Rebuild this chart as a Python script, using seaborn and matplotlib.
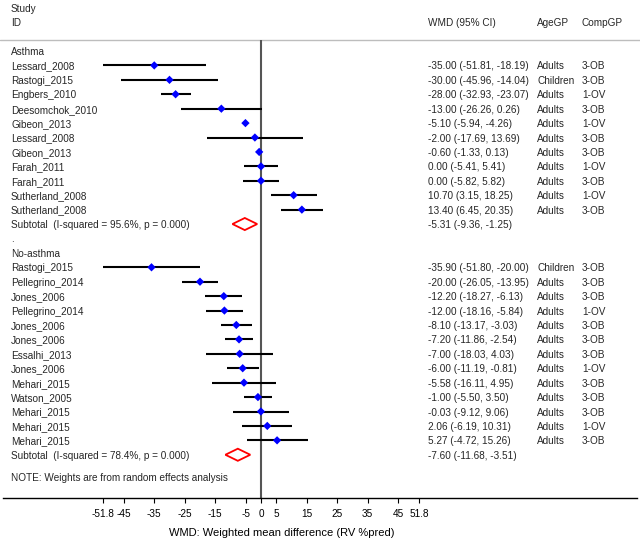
import numpy as np
import pandas as pd
import matplotlib
matplotlib.use("Agg")
import matplotlib.pyplot as plt
import seaborn as sns

sns.set_theme(style="white")
plt.rcParams["font.family"] = ["Liberation Sans", "DejaVu Sans"]

# ---------------- data ----------------
asthma_ids = ["Lessard_2008", "Rastogi_2015", "Engbers_2010", "Deesomchok_2010",
              "Gibeon_2013", "Lessard_2008", "Gibeon_2013", "Farah_2011",
              "Farah_2011", "Sutherland_2008", "Sutherland_2008"]
asthma_wmd = [-35.00, -30.00, -28.00, -13.00, -5.10, -2.00, -0.60, 0.00, 0.00, 10.70, 13.40]
asthma_lo = [-51.81, -45.96, -32.93, -26.26, -5.94, -17.69, -1.33, -5.41, -5.82, 3.15, 6.45]
asthma_hi = [-18.19, -14.04, -23.07, 0.26, -4.26, 13.69, 0.13, 5.41, 5.82, 18.25, 20.35]
asthma_age = ["Adults", "Children", "Adults", "Adults", "Adults", "Adults", "Adults",
              "Adults", "Adults", "Adults", "Adults"]
asthma_comp = ["3-OB", "3-OB", "1-OV", "3-OB", "1-OV", "3-OB", "3-OB", "1-OV",
               "3-OB", "1-OV", "3-OB"]
asthma_sub = [-5.31, -9.36, -1.25]
asthma_sub_label = "Subtotal  (I-squared = 95.6%, p = 0.000)"

noasthma_ids = ["Rastogi_2015", "Pellegrino_2014", "Jones_2006", "Pellegrino_2014",
                "Jones_2006", "Jones_2006", "Essalhi_2013", "Jones_2006", "Mehari_2015",
                "Watson_2005", "Mehari_2015", "Mehari_2015", "Mehari_2015"]
noasthma_wmd = [-35.90, -20.00, -12.20, -12.00, -8.10, -7.20, -7.00, -6.00, -5.58,
                -1.00, -0.03, 2.06, 5.27]
noasthma_lo = [-51.80, -26.05, -18.27, -18.16, -13.17, -11.86, -18.03, -11.19, -16.11,
               -5.50, -9.12, -6.19, -4.72]
noasthma_hi = [-20.00, -13.95, -6.13, -5.84, -3.03, -2.54, 4.03, -0.81, 4.95,
               3.50, 9.06, 10.31, 15.26]
noasthma_age = ["Children"] + ["Adults"] * 12
noasthma_comp = ["3-OB", "3-OB", "3-OB", "1-OV", "3-OB", "3-OB", "3-OB", "1-OV",
                 "3-OB", "3-OB", "3-OB", "1-OV", "3-OB"]
noasthma_sub = [-7.60, -11.68, -3.51]
noasthma_sub_label = "Subtotal  (I-squared = 78.4%, p = 0.000)"

tick_values = [-51.8, -45, -35, -25, -15, -5, 0, 5, 15, 25, 35, 45, 51.8]
tick_labels = ["-51.8", "-45", "-35", "-25", "-15", "-5", "0", "5", "15", "25", "35", "45", "51.8"]
x_label = "WMD: Weighted mean difference (RV %pred)"
note_text = "NOTE: Weights are from random effects analysis"

# ---------------- layout (pixels) ----------------
W, H = 640, 543
ZERO_PX, PX_PER_UNIT = 261, 3.05
ROW0_PX, ROW_PX = 51, 14.42
AXIS_PX = 498

def fmt(v, lo, hi):
    return f"{v:.2f} ({lo:.2f}, {hi:.2f})"

# build row table
rows = []
r = 0
groups = [("Asthma", asthma_ids, asthma_wmd, asthma_lo, asthma_hi, asthma_age, asthma_comp,
           asthma_sub, asthma_sub_label),
          ("No-asthma", noasthma_ids, noasthma_wmd, noasthma_lo, noasthma_hi, noasthma_age,
           noasthma_comp, noasthma_sub, noasthma_sub_label)]
study_rows, sub_rows, label_rows = [], [], []
for gi, (gname, ids, wmd, lo, hi, age, comp, sub, sublab) in enumerate(groups):
    label_rows.append((r, gname))
    r += 1
    for i in range(len(ids)):
        study_rows.append(dict(row=r, id=ids[i], wmd=wmd[i], lo=lo[i], hi=hi[i],
                               age=age[i], comp=comp[i]))
        r += 1
    sub_rows.append(dict(row=r, label=sublab, wmd=sub[0], lo=sub[1], hi=sub[2]))
    r += 1
    if gi == 0:
        label_rows.append((r, "."))
        r += 1
df = pd.DataFrame(study_rows)

fig = plt.figure(figsize=(W / 100, H / 100), dpi=100)
ax = fig.add_axes([0, (H - AXIS_PX) / H, 1, AXIS_PX / H])

xl = (0 - ZERO_PX) / PX_PER_UNIT
xr = (W - ZERO_PX) / PX_PER_UNIT
ax.set_xlim(xl, xr)
ybot = (AXIS_PX - ROW0_PX) / ROW_PX
ytop = (0 - ROW0_PX) / ROW_PX
ax.set_ylim(ybot, ytop)

top_line_row = (39.5 - ROW0_PX) / ROW_PX

# reference lines
ax.axhline(top_line_row, color="#bdbdbd", lw=1.0, zorder=1)
ax.vlines(0, top_line_row, ybot, color="#555555", lw=1.5, zorder=1)

# CIs
ax.hlines(df["row"], df["lo"], df["hi"], color="black", lw=1.5, zorder=2)
sns.scatterplot(data=df, x="wmd", y="row", marker="D", color="#0000ff", s=18,
                edgecolor="none", linewidth=0, ax=ax, zorder=3, legend=False)

# subtotal diamonds
h = 0.42
for s in sub_rows:
    ax.fill([s["lo"], s["wmd"], s["hi"], s["wmd"], s["lo"]],
            [s["row"], s["row"] - h, s["row"], s["row"] + h, s["row"]],
            facecolor="none", edgecolor="#ff0000", lw=1.3, zorder=3)

tr = ax.get_yaxis_transform()
fs = 7.2
VA = "center_baseline"
def px(x):
    return x / W

# headers
ax.text(px(11), (7.7 - ROW0_PX) / ROW_PX, "Study", transform=tr, fontsize=fs, va=VA, ha="left")
hdr_row = (22 - ROW0_PX) / ROW_PX
ax.text(px(11), hdr_row, "ID", transform=tr, fontsize=fs, va=VA, ha="left")
ax.text(px(428), hdr_row, "WMD (95% CI)", transform=tr, fontsize=fs, va=VA, ha="left")
ax.text(px(537), hdr_row, "AgeGP", transform=tr, fontsize=fs, va=VA, ha="left")
ax.text(px(582), hdr_row, "CompGP", transform=tr, fontsize=fs, va=VA, ha="left")

for rr, lab in label_rows:
    ax.text(px(11), rr, lab, transform=tr, fontsize=fs, va=VA, ha="left")
for _, s in df.iterrows():
    ax.text(px(11), s["row"], s["id"], transform=tr, fontsize=fs, va=VA, ha="left")
    ax.text(px(428), s["row"], fmt(s["wmd"], s["lo"], s["hi"]), transform=tr, fontsize=fs,
            va=VA, ha="left")
    ax.text(px(537), s["row"], s["age"], transform=tr, fontsize=fs, va=VA, ha="left")
    ax.text(px(582), s["row"], s["comp"], transform=tr, fontsize=fs, va=VA, ha="left")
for s in sub_rows:
    ax.text(px(11), s["row"], s["label"], transform=tr, fontsize=fs, va=VA, ha="left")
    ax.text(px(428), s["row"], fmt(s["wmd"], s["lo"], s["hi"]), transform=tr, fontsize=fs,
            va=VA, ha="left")

ax.text(px(11), (477 - ROW0_PX) / ROW_PX, note_text, transform=tr, fontsize=fs,
        va=VA, ha="left")

# axes styling
for sp in ["top", "left", "right"]:
    ax.spines[sp].set_visible(False)
ax.spines["bottom"].set_color("black")
ax.spines["bottom"].set_linewidth(1.0)
ax.spines["bottom"].set_bounds((3 - ZERO_PX) / PX_PER_UNIT, (637 - ZERO_PX) / PX_PER_UNIT)
ax.set_yticks([])
ax.set_ylabel("")
ax.set_xticks(tick_values, tick_labels)
ax.tick_params(axis="x", bottom=True, direction="out", length=3.6, width=0.8,
               color="black", labelsize=7.2, pad=4, labelcolor="black")
ax.set_xlabel(x_label, fontsize=8, color="black")
ax.xaxis.label.set_va("center")
ax.xaxis.set_label_coords(282 / W, (AXIS_PX - 533) / AXIS_PX)
ax.grid(False)
ax.set_facecolor("white")

fig.savefig("out.png", dpi=100, facecolor="white")
